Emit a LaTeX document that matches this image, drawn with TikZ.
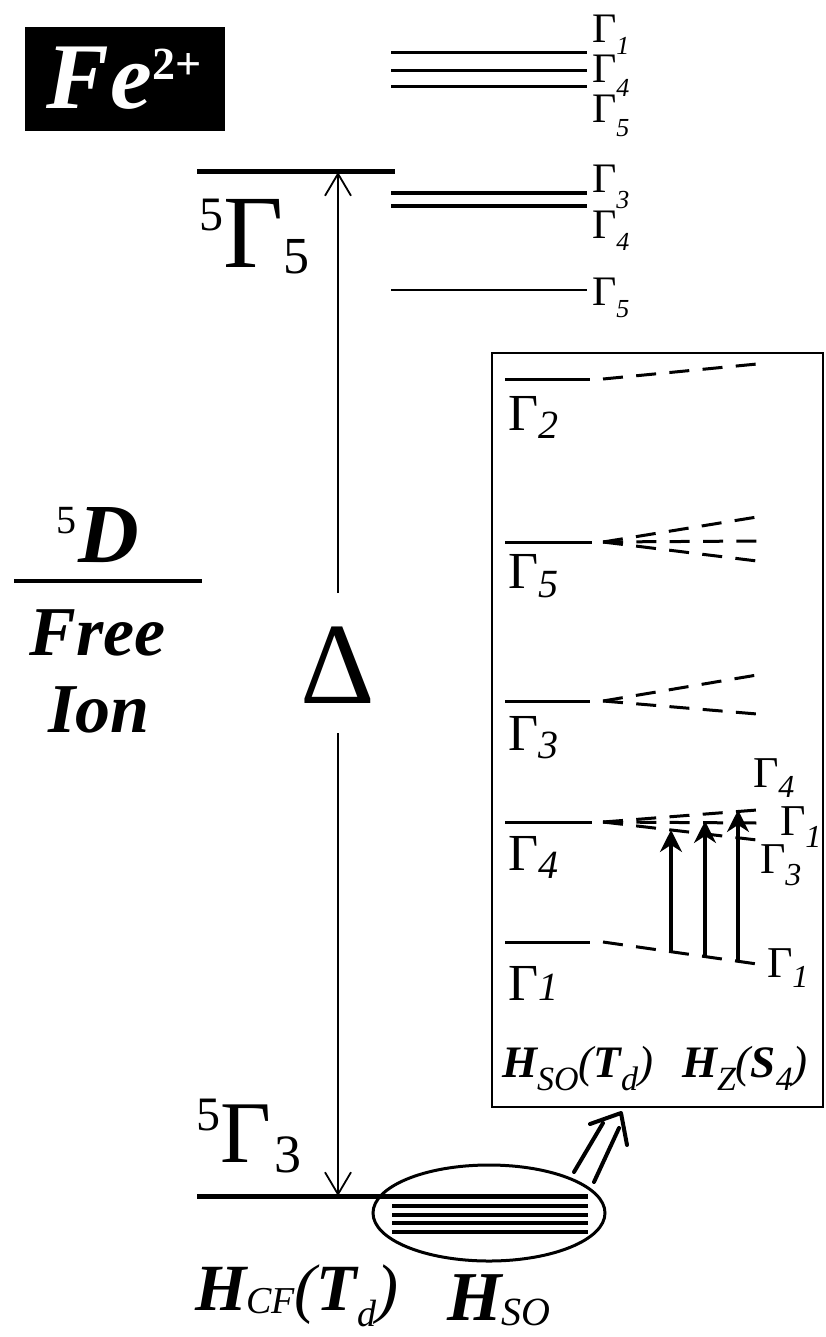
\documentclass[tikz,border=0pt]{standalone}
\usepackage{fontspec}
\setmainfont{Liberation Serif}
\usetikzlibrary{arrows.meta,shapes.geometric}
\newcommand\fs[1]{\fontsize{#1}{#1}\selectfont}
\newcommand\gsub[3]{Γ\raisebox{#1}{\fs{#2}\itshape #3}}
\begin{document}
\begin{tikzpicture}[x=0.5pt,y=-0.5pt,
  every node/.style={inner sep=0pt,outer sep=0pt},
  lvA/.style={line width=2.5pt},
  lvB/.style={line width=2pt},
  lvC/.style={line width=1.5pt},
  lvD/.style={line width=1.2pt},
  dl/.style={line width=1.5pt,dash pattern=on 10pt off 6.67pt},
  darr/.style={line width=0.8pt,-{Straight Barb[length=11pt,width=13pt,line width=0.9pt]}},
  zarr/.style={line width=1.7pt,-{Stealth[length=11pt,width=11pt]}},
  dblline/.style={line width=2pt,line cap=round,line join=round},
  glab/.style={anchor=base west,font=\fs{21}},
  blab/.style={anchor=base west,font=\fs{26}},
  slab/.style={anchor=base west,font=\fs{22}},
  hlab/.style={anchor=base west}]
\useasboundingbox (0,0) rectangle (825,1337);

% Fe2+ box
\node[fill=black,minimum width=100pt,minimum height=52pt] (fe) at (125,79) {};
\node[anchor=base west,text=white] (fetxt) at (46,109)
  {\fs{47}\bfseries\itshape F\kern1pt e\raisebox{14.5pt}{\fs{23}\upshape 2+}};

% free ion
\draw[lvB] (14,581) -- (202,581);
\node[anchor=base west] (fd) at (56,562) {\raisebox{14.5pt}{\fs{20}5}\kern1pt\fs{42}\bfseries\itshape D};
\node[anchor=base,font=\fs{35}\bfseries\itshape] (free) at (98,655) {Free};
\node[anchor=base,font=\fs{35}\bfseries\itshape] (ion) at (99,732) {Ion};

% crystal field levels
\draw[lvA] (197,172) -- (395,172);
\node[anchor=base west] (g55) at (199,267) {\raisebox{18.5pt}{\fs{24}5}\fs{52}Γ\raisebox{-3pt}{\fs{26}5}};
\draw[lvA] (197,1196) -- (588,1196);
\node[anchor=base west] (g53) at (196,1162) {\raisebox{16pt}{\fs{24}5}\fs{44}Γ\kern2pt\raisebox{-5pt}{\fs{27}3}};

% Delta arrows
\node[anchor=base] (delta) at (338,703) {\fs{58}Δ};
\coordinate (dtop) at (338,172);
\coordinate (dbot) at (338,1196);
\coordinate (d1) at (338,593);
\coordinate (d2) at (338,733);
\draw[darr] (d1) -- (dtop);
\draw[darr] (d2) -- (dbot);

% upper 5Gamma5 splitting
\draw[lvC] (391,53) -- (587,53);
\draw[lvC] (391,71) -- (587,71);
\draw[lvC] (391,87) -- (587,87);
\draw[lvB] (391,193) -- (587,193);
\draw[lvB] (391,206) -- (587,206);
\draw[lvD] (391,290) -- (587,290);
\node[glab] (t1) at (592,43) {\gsub{-6pt}{13}{1}};
\node[glab] (t2) at (592,83) {\gsub{-7pt}{13}{4}};
\node[glab] (t3) at (592,123) {\gsub{-7pt}{13}{5}};
\node[glab] (t4) at (592,193) {\gsub{-8pt}{13}{3}};
\node[glab] (t5) at (592,238) {\gsub{-6pt}{13}{4}};
\node[glab] (t6) at (592,305) {\gsub{-6pt}{13}{5}};

% ellipse with H_SO levels
\foreach \yy in {1206,1215,1223,1232} \draw[lvB] (392,\yy) -- (588,\yy);
\node[ellipse,draw,line width=1.5pt,minimum width=116pt,minimum height=48pt] (so) at (489,1213) {};

% box
\node[draw,line width=1.2pt,minimum width=165.5pt,minimum height=377pt] (box) at (657.5,730) {};

% double arrow from ellipse to box
\coordinate (dl1) at (574,1172);
\coordinate (dl2) at (603,1123);
\coordinate (dr1) at (594,1182);
\coordinate (dr2) at (619,1128);
\coordinate (dtip) at (621,1113);
\coordinate (hl) at (590,1124);
\coordinate (hr) at (627,1145);
\draw[dblline] (dl1) -- (dl2);
\draw[dblline] (dr1) -- (dr2);
\draw[dblline] (hl) -- (dtip) -- (hr);

% box levels
\draw[lvC] (505,379) -- (590,379);
\draw[lvC] (505,542) -- (592,542);
\draw[lvC] (505,701) -- (590,701);
\draw[lvC] (505,822) -- (592,822);
\draw[lvC] (505,942) -- (590,942);
\node[blab] (b2) at (508,430) {\gsub{-4pt}{20}{2}};
\node[blab] (b5) at (508,588) {\gsub{-4.5pt}{20}{5}};
\node[blab] (b3) at (508,750) {\gsub{-4pt}{20}{3}};
\node[blab] (b4) at (508,870) {\gsub{-4pt}{20}{4}};
\node[blab] (b1) at (508,1000) {\gsub{0pt}{20}{1}};

% spin-orbit / Zeeman splittings
\draw[dl] (603,379) -- (757,364);
\draw[dl] (603,542) -- (757,517);
\draw[dl] (603,542) -- (757,541);
\draw[dl] (603,542) -- (757,561);
\draw[dl] (603,701) -- (757,675);
\draw[dl] (603,701) -- (757,714);
\draw[dl] (603,822) -- (757,810);
\draw[dl] (603,822) -- (757,823);
\draw[dl] (603,822) -- (757,840);
\draw[dl] (603,942) -- (757,964);

% transitions
\coordinate (a1s) at (671,952);
\coordinate (a1e) at (671,830);
\coordinate (a2s) at (705,957);
\coordinate (a2e) at (705,821);
\coordinate (a3s) at (738,962);
\coordinate (a3e) at (738,810);
\draw[zarr] (a1s) -- (a1e);
\draw[zarr] (a2s) -- (a2e);
\draw[zarr] (a3s) -- (a3e);

\node[slab] (s4) at (753,787) {\gsub{-5pt}{16}{4}};
\node[slab] (s1) at (780,835) {\gsub{-6pt}{16}{1}};
\node[slab] (s3) at (760,873) {\gsub{-6pt}{16}{3}};
\node[slab] (s0) at (767,977) {\gsub{-5pt}{16}{1}};

% Hamiltonian labels
\node[hlab] (hso) at (502,1077) {\fs{22.5}\bfseries\itshape H\raisebox{-6.5pt}{\fs{17}\mdseries SO}{\mdseries(}T\raisebox{-6.5pt}{\fs{17}\mdseries d}{\mdseries)}};
\node[hlab] (hz) at (682,1077) {\fs{22.5}\bfseries\itshape H\raisebox{-6.5pt}{\fs{17}\mdseries Z}{\mdseries(}S\raisebox{-6.5pt}{\fs{17}\mdseries 4}{\mdseries)}};
\node[hlab] (hcf) at (195,1310) {\fs{33}\bfseries\itshape H\raisebox{-1.5pt}{\fs{19}\mdseries CF}{\mdseries(}T\raisebox{-8pt}{\fs{19}\mdseries d}{\mdseries)}};
\node[hlab] (hso2) at (447,1320) {\fs{35}\bfseries\itshape H\raisebox{-2.5pt}{\fs{20}\mdseries SO}};
\end{tikzpicture}
\end{document}
